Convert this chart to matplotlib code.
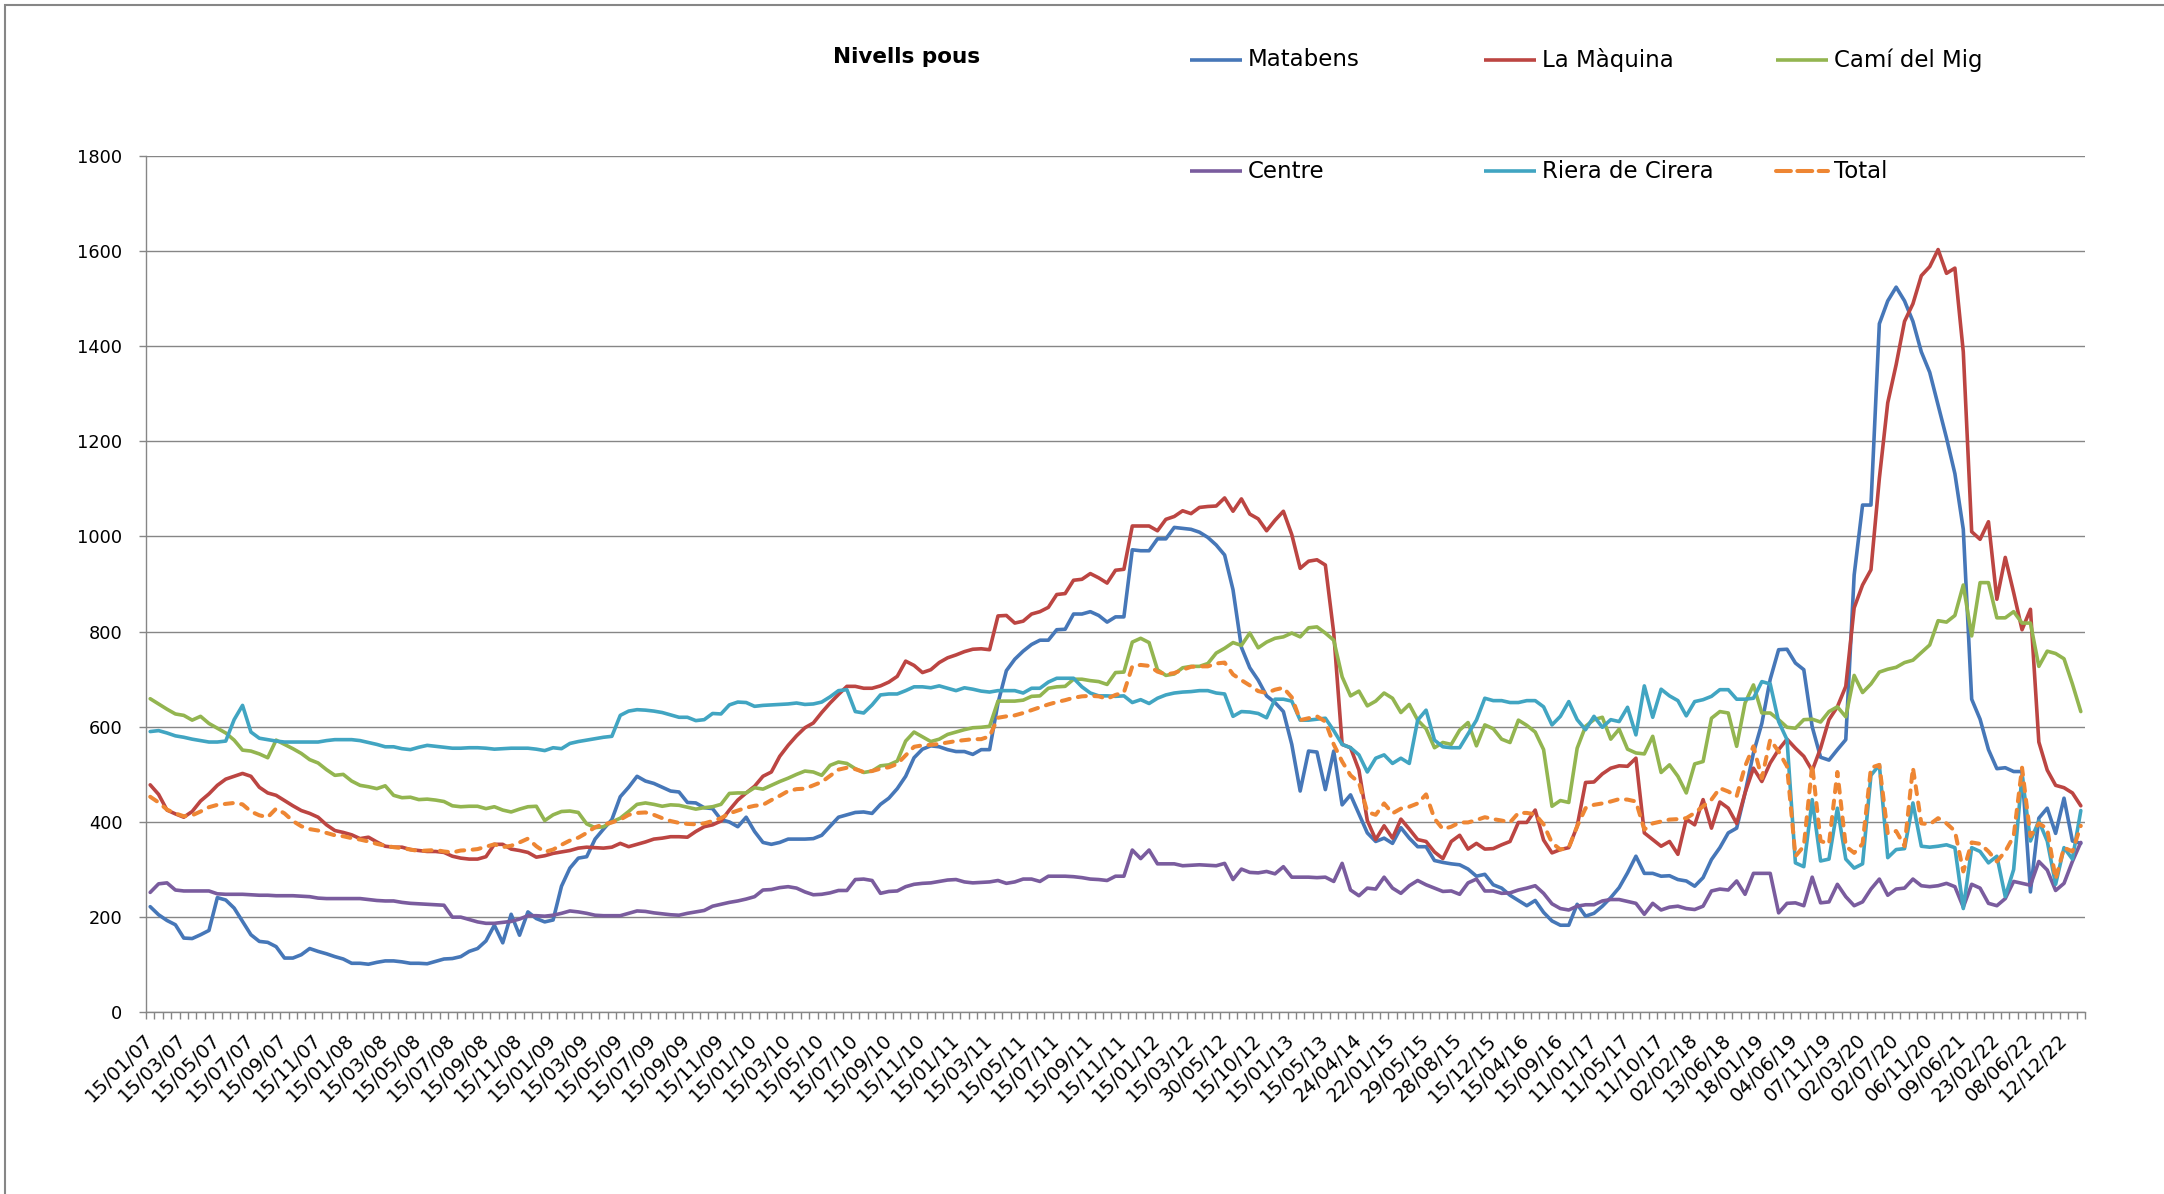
import matplotlib
matplotlib.use('Agg')
import matplotlib.pyplot as plt
from matplotlib.lines import Line2D
from matplotlib.patches import Rectangle
import numpy as np

# ---------------- data ----------------
tick_labels = ['15/01/07', '15/03/07', '15/05/07', '15/07/07', '15/09/07', '15/11/07',
               '15/01/08', '15/03/08', '15/05/08', '15/07/08', '15/09/08', '15/11/08',
               '15/01/09', '15/03/09', '15/05/09', '15/07/09', '15/09/09', '15/11/09',
               '15/01/10', '15/03/10', '15/05/10', '15/07/10', '15/09/10', '15/11/10',
               '15/01/11', '15/03/11', '15/05/11', '15/07/11', '15/09/11', '15/11/11',
               '15/01/12', '15/03/12', '30/05/12', '15/10/12', '15/01/13', '15/05/13',
               '24/04/14', '22/01/15', '29/05/15', '28/08/15', '15/12/15', '15/04/16',
               '15/09/16', '11/01/17', '11/05/17', '11/10/17', '02/02/18', '13/06/18',
               '18/01/19', '04/06/19', '07/11/19', '02/03/20', '02/07/20', '06/11/20',
               '09/06/21', '23/02/22', '08/06/22', '12/12/22']
label_step = 4

matabens = [
    222, 205, 193, 184, 156, 155, 163, 172, 241, 236, 219, 191, 163, 149, 147, 138, 114, 114, 121, 134, 128, 123, 117, 112, 103, 103, 101, 105, 108, 108, 106, 103, 103,
    102, 107, 112, 113, 117, 128, 134, 150, 183, 146, 206, 162, 211, 197, 190, 194, 265, 303, 324, 327, 364, 385, 405, 453, 473, 496, 486, 481, 473, 465, 463, 441, 440, 430,
    428, 405, 400, 390, 410, 380, 357, 353, 357, 364, 364, 364, 365, 372, 391, 410, 415, 420, 421, 418, 437, 450, 470, 496, 535, 553, 560, 558, 552, 548, 548, 542, 552,
    552, 650, 718, 742, 759, 773, 782, 782, 804, 805, 837, 837, 842, 834, 820, 831, 831, 972, 970, 970, 995, 995, 1019, 1017, 1015, 1009, 998, 982, 961, 888, 767, 724, 698, 665,
    651, 632, 563, 465, 549, 547, 468, 549, 436, 457, 417, 377, 359, 366, 355, 388, 366, 348, 348, 319, 315, 312, 310, 301, 286, 290, 268, 261, 246, 235, 224, 235, 210,
    192, 183, 183, 227, 202, 208, 223, 241, 262, 293, 328, 292, 292, 286, 287, 279, 276, 265, 283, 321, 346, 377, 387, 461, 545, 607, 700, 762, 763, 734, 720, 600,
    536, 530, 552, 573, 919, 1066, 1066, 1447, 1495, 1524, 1495, 1452, 1388, 1345, 1276, 1207, 1132, 1015, 658, 616, 552, 512, 514, 506, 506, 253, 408, 429, 376, 450, 360, 355]

la_maquina = [
    478, 458, 425, 417, 410, 422, 444, 459, 477, 490, 496, 502, 496, 473, 461, 456, 445, 434, 424, 418, 410, 394, 382, 378, 373, 365, 368, 358, 349, 347, 347, 342, 340,
    338, 338, 336, 328, 324, 322, 322, 327, 353, 353, 343, 340, 336, 326, 329, 334, 337, 340, 345, 347, 346, 345, 347, 355, 348, 353, 358, 364, 366, 369, 369, 368, 380, 390,
    394, 402, 425, 446, 461, 475, 496, 505, 538, 561, 581, 598, 608, 630, 650, 668, 685, 685, 681, 681, 686, 694, 706, 738, 729, 714, 720, 735, 745, 751, 758, 763, 764,
    762, 833, 834, 818, 822, 837, 842, 851, 878, 880, 908, 910, 922, 913, 902, 929, 931, 1022, 1022, 1022, 1012, 1036, 1042, 1054, 1048, 1061, 1063, 1064, 1081, 1053, 1079, 1047, 1037, 1012,
    1034, 1053, 1004, 933, 948, 951, 940, 797, 563, 556, 509, 403, 363, 392, 366, 406, 385, 363, 359, 337, 323, 359, 372, 343, 355, 343, 344, 352, 359, 399, 399, 425, 362,
    335, 342, 346, 391, 483, 484, 501, 513, 518, 517, 534, 377, 363, 349, 359, 332, 406, 394, 447, 387, 442, 429, 397, 461, 513, 485, 524, 552, 574, 555, 538, 508,
    555, 615, 642, 685, 850, 898, 930, 1122, 1281, 1361, 1452, 1489, 1548, 1567, 1603, 1553, 1564, 1388, 1010, 994, 1031, 868, 956, 882, 804, 847, 568, 509, 477, 472, 461, 434]

cami_del_mig = [
    659, 648, 637, 627, 624, 614, 622, 607, 597, 587, 572, 551, 549, 543, 535, 572, 563, 554, 544, 531, 524, 510, 498, 500, 486, 477, 474, 470, 476, 456, 451, 452, 447,
    448, 446, 443, 434, 432, 433, 433, 428, 432, 425, 421, 427, 432, 433, 403, 415, 422, 423, 420, 396, 388, 390, 400, 408, 422, 437, 440, 437, 433, 436, 435, 431, 427, 430,
    432, 437, 460, 461, 461, 472, 469, 477, 485, 492, 500, 507, 505, 498, 519, 526, 523, 512, 504, 507, 518, 520, 528, 570, 589, 579, 569, 574, 584, 589, 594, 598, 599,
    601, 654, 654, 654, 656, 664, 665, 681, 684, 685, 700, 700, 697, 695, 689, 714, 715, 778, 786, 777, 720, 708, 711, 724, 727, 727, 733, 755, 765, 777, 771, 797, 766, 778,
    786, 789, 797, 789, 808, 810, 797, 782, 705, 665, 675, 644, 654, 671, 660, 630, 647, 614, 596, 556, 567, 563, 593, 609, 560, 604, 596, 574, 567, 614, 603, 589, 552,
    433, 445, 441, 555, 601, 615, 620, 574, 595, 553, 545, 543, 580, 504, 520, 496, 461, 522, 527, 618, 632, 629, 559, 650, 688, 629, 629, 615, 599, 597, 615, 616,
    610, 632, 642, 621, 708, 672, 690, 715, 721, 725, 735, 740, 756, 772, 823, 820, 834, 898, 791, 903, 903, 829, 829, 842, 818, 818, 727, 759, 754, 743, 690, 632]

centre = [
    252, 270, 272, 257, 255, 255, 255, 255, 249, 248, 248, 248, 247, 246, 246, 245, 245, 245, 244, 243, 240, 239, 239, 239, 239, 239, 237, 235, 234, 234, 231, 229, 228,
    227, 226, 225, 200, 200, 195, 190, 187, 187, 189, 191, 196, 203, 203, 202, 204, 208, 213, 211, 208, 204, 203, 203, 203, 208, 213, 212, 209, 207, 205, 204, 208, 211, 214,
    223, 227, 231, 234, 238, 243, 257, 258, 262, 264, 261, 253, 247, 248, 251, 256, 256, 279, 280, 277, 250, 254, 255, 264, 269, 271, 272, 275, 278, 279, 274, 272, 273,
    274, 277, 271, 274, 280, 280, 275, 286, 286, 286, 285, 283, 280, 279, 277, 286, 286, 341, 323, 341, 312, 312, 312, 308, 309, 310, 309, 308, 313, 279, 301, 294, 293, 296,
    291, 306, 284, 284, 284, 283, 284, 275, 313, 257, 245, 261, 259, 284, 261, 250, 266, 277, 268, 261, 254, 255, 248, 272, 280, 255, 255, 250, 251, 257, 261, 266, 250,
    228, 218, 215, 223, 226, 226, 234, 237, 237, 233, 229, 206, 229, 215, 221, 223, 218, 216, 223, 255, 259, 257, 276, 248, 292, 292, 292, 209, 229, 230, 224, 284,
    230, 232, 269, 243, 224, 232, 259, 280, 246, 259, 261, 280, 266, 264, 266, 271, 264, 221, 269, 261, 229, 224, 239, 275, 271, 267, 317, 299, 256, 271, 317, 357]

riera_de_cirera = [
    590, 592, 587, 581, 578, 574, 571, 568, 568, 570, 615, 645, 589, 576, 573, 570, 568, 568, 568, 568, 568, 571, 573, 573, 573, 571, 567, 563, 558, 558, 554, 552, 557,
    561, 559, 557, 555, 555, 556, 556, 555, 553, 554, 555, 555, 555, 553, 550, 556, 554, 565, 569, 572, 575, 578, 580, 624, 633, 636, 635, 633, 630, 625, 620, 620, 613, 615,
    628, 627, 646, 652, 651, 643, 645, 646, 647, 648, 650, 647, 648, 652, 663, 676, 678, 632, 629, 646, 667, 669, 669, 676, 684, 684, 682, 686, 681, 676, 682, 679, 675,
    673, 676, 676, 676, 671, 681, 681, 694, 702, 702, 702, 684, 671, 665, 665, 664, 665, 651, 657, 649, 660, 667, 671, 673, 674, 676, 676, 671, 669, 622, 632, 631, 628, 619,
    658, 658, 654, 614, 614, 616, 618, 592, 563, 556, 541, 505, 534, 541, 523, 534, 523, 614, 635, 572, 558, 556, 556, 585, 614, 660, 655, 655, 651, 651, 655, 655, 642,
    604, 622, 653, 615, 594, 622, 599, 615, 611, 641, 583, 686, 620, 679, 665, 655, 623, 653, 657, 664, 678, 678, 658, 658, 660, 695, 690, 611, 573, 314, 306, 447,
    318, 322, 429, 322, 303, 312, 498, 520, 325, 342, 344, 440, 349, 347, 349, 352, 346, 218, 346, 338, 314, 328, 243, 300, 498, 360, 402, 360, 269, 346, 322, 424]

total = [
    453, 441, 426, 418, 412, 414, 422, 431, 436, 438, 440, 437, 422, 414, 410, 428, 418, 402, 391, 385, 382, 377, 372, 370, 366, 363, 359, 354, 350, 347, 345, 342, 339,
    340, 341, 338, 336, 340, 341, 343, 348, 353, 347, 350, 357, 365, 349, 337, 342, 352, 361, 367, 377, 389, 395, 399, 405, 415, 419, 420, 415, 408, 402, 398, 396, 395, 397,
    402, 408, 418, 424, 430, 434, 436, 446, 455, 465, 469, 470, 477, 484, 497, 510, 514, 511, 505, 507, 512, 515, 522, 540, 558, 561, 562, 564, 567, 570, 572, 574, 574,
    580, 619, 622, 624, 629, 635, 641, 647, 652, 656, 661, 664, 665, 664, 659, 667, 672, 727, 730, 728, 716, 710, 713, 720, 726, 727, 727, 733, 735, 710, 698, 687, 675, 671,
    678, 682, 662, 614, 618, 622, 611, 563, 527, 498, 483, 421, 415, 439, 418, 428, 432, 439, 458, 407, 385, 390, 399, 399, 404, 410, 406, 403, 399, 419, 419, 416, 395,
    356, 342, 346, 391, 429, 436, 439, 443, 448, 447, 443, 384, 397, 401, 405, 406, 408, 419, 433, 447, 471, 464, 454, 517, 559, 492, 573, 548, 517, 328, 349, 520,
    360, 354, 505, 349, 335, 354, 514, 520, 376, 381, 349, 514, 397, 395, 408, 397, 381, 296, 357, 354, 338, 317, 338, 370, 514, 370, 397, 386, 280, 346, 338, 392]

series_names = ['Matabens', 'La Màquina', 'Camí del Mig', 'Centre', 'Riera de Cirera', 'Total']
series_values = [matabens, la_maquina, cami_del_mig, centre, riera_de_cirera, total]
series_colors = ['#4677B8', '#BC4542', '#93B550', '#7A5C9E', '#41A5C2', '#EE8633']

# ---------------- figure ----------------
W, H = 2164, 1194
fig = plt.figure(figsize=(W / 100, H / 100), dpi=100)
fig.patch.set_facecolor('white')

ax_left, ax_right, ax_top, ax_bottom = 146, 2085, 155.8, 1012.3
ax = fig.add_axes([ax_left / W, 1 - ax_bottom / H, (ax_right - ax_left) / W, (ax_bottom - ax_top) / H])

n = len(matabens)
x = np.arange(n)
lines = []
for name, vals, col in zip(series_names, series_values, series_colors):
    if name == 'Total':
        ln, = ax.plot(x, vals, color=col, lw=2.9, linestyle=(0, (2.0, 2.1)),
                      dash_capstyle='round', solid_joinstyle='round', label=name)
    else:
        ln, = ax.plot(x, vals, color=col, lw=2.6, solid_capstyle='round',
                      solid_joinstyle='round', label=name)
    lines.append(ln)

grey = '#868686'
ax.set_xlim(-0.5, n - 0.5)
ax.set_ylim(0, 1800)
ax.set_yticks(np.arange(0, 1801, 200))
ax.yaxis.grid(True, color=grey, lw=1.0)
ax.set_axisbelow(True)
for s in ['top', 'right']:
    ax.spines[s].set_visible(False)
for s in ['left', 'bottom']:
    ax.spines[s].set_color(grey)
    ax.spines[s].set_linewidth(1.0)

ax.tick_params(axis='y', direction='out', length=5, width=1.0, color=grey,
               labelsize=12.8, pad=12, labelcolor='black')

major_pos = np.arange(0, len(tick_labels) * label_step, label_step)
ax.set_xticks(major_pos)
ax.set_xticklabels(tick_labels, rotation=45, ha='right', va='center',
                   rotation_mode='anchor', fontsize=14)
ax.set_xticks(np.arange(-0.5, n, 1.0), minor=True)
ax.tick_params(axis='x', which='major', length=0, pad=18)
ax.tick_params(axis='x', which='minor', direction='out', length=5, width=1.0, color=grey)

# ---------------- title & legend ----------------
fig.text(907 / W, 1 - 57 / H, 'Nivells pous', ha='center', va='center',
         fontsize=15.5, fontweight='bold')

col_x = [1190, 1484, 1776]
row_y = [60, 171]
for k, (name, ln) in enumerate(zip(series_names, lines)):
    r, c = divmod(k, 3)
    x0 = col_x[c]
    y0 = 1 - row_y[r] / H
    handle = Line2D([x0 / W, (x0 + 52) / W], [y0, y0], transform=fig.transFigure,
                    color=ln.get_color(), lw=ln.get_linewidth(),
                    linestyle=ln.get_linestyle(), solid_capstyle='butt',
                    dash_capstyle='round')
    fig.add_artist(handle)
    fig.text((x0 + 58) / W, y0, name, ha='left', va='center', fontsize=16.5)

# chart border (top and left visible)
fig.add_artist(Rectangle((5 / W, -0.2), 1.5, 1.2 - 5 / H, transform=fig.transFigure,
                         fill=False, edgecolor=grey, lw=1.5))

fig.savefig('out.png', dpi=100, facecolor='white')
